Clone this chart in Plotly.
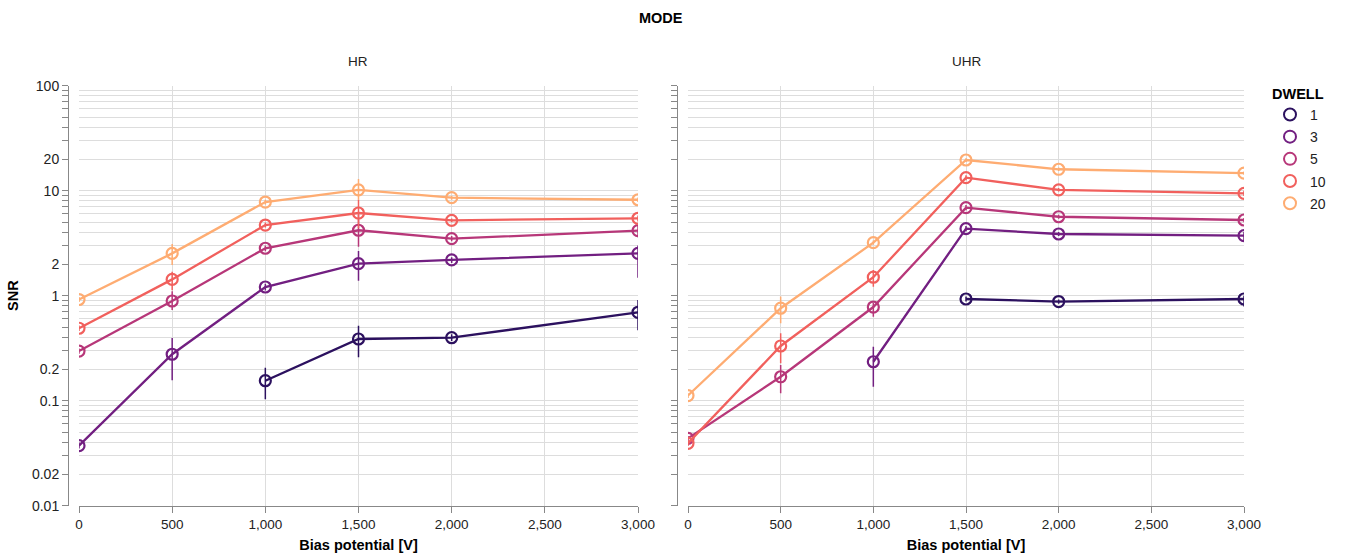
import plotly.graph_objects as go

# ---------------- data ----------------
bias = [0, 500, 1000, 1500, 2000, 3000]
dwell_labels = ["1", "3", "5", "10", "20"]
colors = ["#2c115f", "#721f81", "#b73779", "#f1605d", "#feac72"]

# HR mode: SNR means and error-bar bounds
hr_d1 = [None, None, 0.155, 0.387, 0.398, 0.695]
hr_d1_lo = [None, None, 0.103, 0.259, 0.37, 0.468]
hr_d1_hi = [None, None, 0.206, 0.518, 0.43, 0.91]
hr_d3 = [0.0373, 0.277, 1.21, 2.02, 2.19, 2.53]
hr_d3_lo = [0.035, 0.157, 1.12, 1.39, 2.05, 1.48]
hr_d3_hi = [0.040, 0.395, 1.30, 2.67, 2.33, 3.0]
hr_d5 = [0.297, 0.89, 2.83, 4.2, 3.49, 4.16]
hr_d5_lo = [0.28, 0.73, 2.65, 2.93, 3.3, 3.6]
hr_d5_hi = [0.315, 1.1, 3.0, 5.9, 3.7, 4.7]
hr_d10 = [0.49, 1.43, 4.71, 6.13, 5.22, 5.46]
hr_d10_lo = [0.46, 1.13, 4.45, 4.4, 5.0, 5.1]
hr_d10_hi = [0.52, 1.69, 4.97, 8.2, 5.45, 5.8]
hr_d20 = [0.92, 2.53, 7.8, 10.2, 8.58, 8.2]
hr_d20_lo = [0.87, 1.96, 7.4, 8.2, 8.2, 7.8]
hr_d20_hi = [0.97, 3.1, 8.2, 12.9, 8.95, 8.6]

# UHR mode
uhr_d1 = [None, None, None, 0.93, 0.88, 0.93]
uhr_d1_lo = [None, None, None, 0.88, 0.84, 0.79]
uhr_d1_hi = [None, None, None, 0.98, 0.92, 1.0]
uhr_d3 = [None, None, 0.235, 4.35, 3.87, 3.73]
uhr_d3_lo = [None, None, 0.136, 4.1, 3.7, 3.4]
uhr_d3_hi = [None, None, 0.327, 4.6, 4.05, 4.05]
uhr_d5 = [0.0438, 0.169, 0.78, 6.89, 5.65, 5.26]
uhr_d5_lo = [0.041, 0.118, 0.63, 6.5, 5.4, 5.0]
uhr_d5_hi = [0.046, 0.219, 0.85, 7.3, 5.9, 5.5]
uhr_d10 = [0.0393, 0.332, 1.5, 13.3, 10.2, 9.44]
uhr_d10_lo = [0.037, 0.227, 1.22, 12.6, 9.8, 8.9]
uhr_d10_hi = [0.042, 0.44, 1.76, 14.0, 10.6, 10.0]
uhr_d20 = [0.112, 0.76, 3.2, 19.6, 16.0, 14.7]
uhr_d20_lo = [0.106, 0.546, 3.05, 18.8, 15.4, 14.2]
uhr_d20_hi = [0.118, 0.98, 3.35, 20.4, 16.6, 15.2]

y_tick_labels = ["0.01", "0.02", "0.1", "0.2", "1", "2", "10", "20", "100"]
x_tick_vals = [0, 500, 1000, 1500, 2000, 2500, 3000]

hr_series = [(hr_d1, hr_d1_lo, hr_d1_hi), (hr_d3, hr_d3_lo, hr_d3_hi),
             (hr_d5, hr_d5_lo, hr_d5_hi), (hr_d10, hr_d10_lo, hr_d10_hi),
             (hr_d20, hr_d20_lo, hr_d20_hi)]
uhr_series = [(uhr_d1, uhr_d1_lo, uhr_d1_hi), (uhr_d3, uhr_d3_lo, uhr_d3_hi),
              (uhr_d5, uhr_d5_lo, uhr_d5_hi), (uhr_d10, uhr_d10_lo, uhr_d10_hi),
              (uhr_d20, uhr_d20_lo, uhr_d20_hi)]

FONT = "Liberation Sans, Arial, Helvetica, sans-serif"
W, H = 1349, 555

def err(y, lo, hi):
    plus = [None if v is None else h - v for v, h in zip(y, hi)]
    minus = [None if v is None else v - l for v, l in zip(y, lo)]
    return plus, minus

fig = go.Figure()
for series, xa, ya in [(hr_series, "x", "y"), (uhr_series, "x2", "y2")]:
    for (y, lo, hi), col in zip(series, colors):
        plus, minus = err(y, lo, hi)
        fig.add_trace(go.Scatter(
            x=bias, y=y, xaxis=xa, yaxis=ya, mode="lines+markers",
            line=dict(color=col, width=2.3),
            marker=dict(symbol="circle-open", size=11, color=col, line=dict(width=2.2, color=col)),
            error_y=dict(type="data", array=plus, arrayminus=minus, symmetric=False,
                         color=col, thickness=1.5, width=0),
            showlegend=False, hoverinfo="x+y"))

# legend entries
for lab, col in zip(dwell_labels, colors):
    fig.add_trace(go.Scatter(
        x=[None], y=[None], mode="markers", name=lab, legendgroup=lab,
        marker=dict(symbol="circle-open", size=15, color=col, line=dict(width=2, color=col))))

# y ticks: all 1..9 x decades, labels only at some
y_tick_vals = []
y_tick_text = []
for e in range(-2, 3):
    for m in range(1, 10):
        v = m * 10 ** e
        if v > 100.0001:
            break
        v = round(v, 4)
        y_tick_vals.append(v)
        s = ("%g" % v)
        y_tick_text.append(s if s in y_tick_labels else "")

def px(v):
    return v / W

def py(v):
    return (H - v) / H

y_dom = [py(505.7), py(85.7)]
common_y = dict(type="log", range=[-2, 2], domain=y_dom, tickvals=y_tick_vals,
                ticktext=y_tick_text, showgrid=True, gridcolor="#dddddd", gridwidth=1,
                showline=True, linecolor="#888888", linewidth=1, ticks="outside",
                ticklen=6, tickcolor="#888888", zeroline=False, automargin=False,
                tickfont=dict(size=14, color="#222", family=FONT), anchor="free")
common_x = dict(range=[0, 3000], tickvals=x_tick_vals, tickformat=",d",
                showgrid=True, gridcolor="#dddddd", gridwidth=1, showline=True,
                linecolor="#888888", linewidth=1, ticks="outside", ticklen=6,
                tickcolor="#888888", zeroline=False, automargin=False,
                tickfont=dict(size=13.5, color="#222", family=FONT),
                title=dict(text="<b>Bias potential [V]</b>", font=dict(size=14.5, color="#000", family=FONT), standoff=8))

fig.update_layout(
    width=W, height=H,
    margin=dict(l=0, r=0, t=0, b=0, autoexpand=False),
    paper_bgcolor="white", plot_bgcolor="white",
    font=dict(family=FONT, color="#000"),
    xaxis=dict(domain=[px(79), px(638)], anchor="y", **common_x),
    xaxis2=dict(domain=[px(688), px(1244)], anchor="y2", **common_x),
    yaxis=dict(position=px(68),
               title=dict(text="<b>SNR</b>", font=dict(size=14.5, color="#000", family=FONT), standoff=8),
               **common_y),
    yaxis2=dict(position=px(677), showticklabels=False, matches="y", **common_y),
    legend=dict(x=px(1270), y=py(80), xanchor="left", yanchor="top",
                title=dict(text="<b>DWELL</b>", font=dict(size=14.5, color="#000", family=FONT)),
                font=dict(size=14, color="#222", family=FONT), tracegroupgap=1,
                itemsizing="constant", bgcolor="rgba(0,0,0,0)"),
    annotations=[
        dict(text="<b>MODE</b>", x=px(661), y=py(18), xref="paper", yref="paper",
             xanchor="center", yanchor="middle",
             showarrow=False, font=dict(size=14.5, color="#000", family=FONT)),
        dict(text="HR", x=px(358), y=py(62), xref="paper", yref="paper",
             xanchor="center", yanchor="middle",
             showarrow=False, font=dict(size=13.5, color="#222", family=FONT)),
        dict(text="UHR", x=px(966), y=py(62), xref="paper", yref="paper",
             xanchor="center", yanchor="middle",
             showarrow=False, font=dict(size=13.5, color="#222", family=FONT)),
    ],
)

fig.write_html("out.html", config={"displayModeBar": False},
               post_script="document.body.style.margin='0';document.body.style.padding='0';")
